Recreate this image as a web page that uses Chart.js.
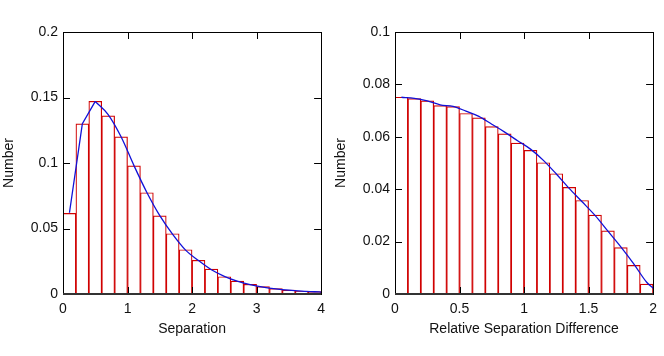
<!DOCTYPE html>
<html>
<head>
<meta charset="utf-8">
<script src="https://cdn.jsdelivr.net/npm/chart.js@4.4.1/dist/chart.umd.min.js"></script>
<style>
  html, body { margin: 0; padding: 0; background: #fff; }
  #wrap { position: relative; width: 664px; height: 356px; }
  canvas { position: absolute; top: 0; }
</style>
</head>
<body>
<div id="wrap">
  <canvas id="left" width="332" height="356" style="left:0"></canvas>
  <canvas id="right" width="332" height="356" style="left:332px"></canvas>
</div>
<script>
// left panel: separation histogram
const sepBins = [0.1, 0.3, 0.5, 0.7, 0.9, 1.1, 1.3, 1.5, 1.7, 1.9, 2.1, 2.3, 2.5, 2.7, 2.9, 3.1, 3.3, 3.5, 3.7, 3.9];
const sepCounts = [0.0615, 0.1299, 0.1471, 0.136, 0.120, 0.0978, 0.0773, 0.0597, 0.046, 0.0338,
  0.0257, 0.019, 0.0132, 0.0099, 0.0074, 0.0056, 0.0041, 0.003, 0.0023, 0.0018];
const sepCurveX = [0.1, 0.3, 0.5, 0.7, 0.9, 1.1, 1.3, 1.5, 1.7, 1.9, 2.1, 2.3, 2.5, 2.7, 2.9, 3.1, 3.3, 3.5, 3.7, 3.9, 4.0];
const sepCurveY = [0.062, 0.130, 0.147, 0.137, 0.120, 0.098, 0.0775, 0.0598, 0.0455, 0.0335,
  0.0255, 0.0185, 0.0135, 0.0098, 0.0072, 0.0053, 0.0039, 0.0029, 0.0022, 0.0017, 0.0015];
const sepXTicks = [0, 1, 2, 3, 4];
const sepYTicks = [0, 0.05, 0.1, 0.15, 0.2];

// right panel: relative separation difference
const relBins = [0.05, 0.15, 0.25, 0.35, 0.45, 0.55, 0.65, 0.75, 0.85, 0.95,
  1.05, 1.15, 1.25, 1.35, 1.45, 1.55, 1.65, 1.75, 1.85, 1.95];
const relCounts = [0.0751, 0.0746, 0.0737, 0.0719, 0.0715, 0.0689, 0.0672, 0.0639, 0.0611, 0.0576,
  0.0548, 0.0501, 0.0459, 0.0407, 0.0357, 0.0301, 0.0241, 0.0177, 0.0109, 0.0038];
const relCurveX = [0.05, 0.15, 0.25, 0.35, 0.45, 0.55, 0.65, 0.75, 0.85, 0.95,
  1.05, 1.15, 1.25, 1.35, 1.45, 1.55, 1.65, 1.75, 1.85, 1.95, 2.0];
const relCurveY = [0.0751, 0.0747, 0.0737, 0.0722, 0.0716, 0.0698, 0.0678, 0.0648, 0.0618, 0.0585,
  0.0553, 0.051, 0.0458, 0.0403, 0.0352, 0.03, 0.024, 0.018, 0.0115, 0.0045, 0.0022];
const relXTicks = [0, 0.5, 1, 1.5, 2];
const relYTicks = [0, 0.02, 0.04, 0.06, 0.08, 0.1];

const FONT = { family: "'Liberation Sans', Arial, sans-serif", size: 14 };
const TEXT = '#111';
const RED = '#d00000';
const BLUE = '#1010d8';
const TICK_LEN = 7;

// gnuplot style box with inward ticks on all four sides
const frameTicks = {
  id: 'frameTicks',
  afterDatasetsDraw(chart) {
    const { ctx, chartArea: a, scales: { x, y } } = chart;
    ctx.save();
    ctx.strokeStyle = '#000';
    ctx.lineWidth = 1;
    ctx.beginPath();
    x.ticks.forEach(t => {
      const px = Math.round(x.getPixelForValue(t.value)) + 0.5;
      ctx.moveTo(px, a.bottom); ctx.lineTo(px, a.bottom - TICK_LEN);
      ctx.moveTo(px, a.top); ctx.lineTo(px, a.top + TICK_LEN);
    });
    y.ticks.forEach(t => {
      const py = Math.round(y.getPixelForValue(t.value)) + 0.5;
      ctx.moveTo(a.left, py); ctx.lineTo(a.left + TICK_LEN, py);
      ctx.moveTo(a.right, py); ctx.lineTo(a.right - TICK_LEN, py);
    });
    ctx.stroke();
    ctx.strokeRect(Math.round(a.left) + 0.5, Math.round(a.top) + 0.5,
      Math.round(a.right - a.left), Math.round(a.bottom - a.top));
    // baseline looks heavier in the original
    ctx.strokeStyle = '#333';
    ctx.lineWidth = 2;
    ctx.beginPath();
    ctx.moveTo(a.left, Math.round(a.bottom));
    ctx.lineTo(a.right, Math.round(a.bottom));
    ctx.stroke();
    ctx.restore();
  }
};

function makePanel(id, bins, counts, curves, xTicks, yTicks, xTitle) {
  const datasets = [{
    type: 'bar',
    data: bins.map((b, i) => ({ x: b, y: counts[i] })),
    backgroundColor: '#fff',
    borderColor: RED,
    borderWidth: 1.2,
    barPercentage: 1,
    categoryPercentage: 1,
    order: 2
  }];
  curves.forEach(c => datasets.push({
    type: 'line',
    data: c.x.map((v, i) => ({ x: v, y: c.y[i] })),
    borderColor: BLUE,
    borderWidth: 1.3,
    pointRadius: 0,
    fill: false,
    cubicInterpolationMode: c.smooth ? 'monotone' : 'default',
    tension: 0,
    order: 1
  }));
  new Chart(document.getElementById(id), {
    type: 'bar',
    data: { datasets },
    plugins: [frameTicks],
    options: {
      responsive: false,
      animation: false,
      layout: { padding: { left: 0, top: 32, right: 7, bottom: 0 } },
      plugins: { legend: { display: false }, tooltip: { enabled: false } },
      scales: {
        x: {
          type: 'linear',
          offset: false,
          min: xTicks[0],
          max: xTicks[xTicks.length - 1],
          afterBuildTicks: s => { s.ticks = xTicks.map(v => ({ value: v })); },
          afterFit: s => { s.height = 62; },
          grid: { display: false, drawTicks: false },
          border: { display: false },
          ticks: { color: TEXT, font: FONT, padding: 7, maxRotation: 0, callback: v => String(v) },
          title: { display: true, text: xTitle, color: TEXT, font: FONT, padding: { top: 0, bottom: 18 } }
        },
        y: {
          type: 'linear',
          min: yTicks[0],
          max: yTicks[yTicks.length - 1],
          afterBuildTicks: s => { s.ticks = yTicks.map(v => ({ value: v })); },
          afterFit: s => { s.width = 63; },
          grid: { display: false, drawTicks: false },
          border: { display: false },
          ticks: { color: TEXT, font: FONT, padding: 5, callback: v => String(v) },
          title: { display: true, text: 'Number', color: TEXT, font: FONT, padding: { top: 1, bottom: 0 } }
        }
      }
    }
  });
}

makePanel('left', sepBins, sepCounts, [
  { x: sepCurveX.slice(0, 3), y: sepCurveY.slice(0, 3), smooth: false },
  { x: sepCurveX.slice(2), y: sepCurveY.slice(2), smooth: true }
], sepXTicks, sepYTicks, 'Separation');

makePanel('right', relBins, relCounts, [
  { x: relCurveX, y: relCurveY, smooth: true }
], relXTicks, relYTicks, 'Relative Separation Difference');
</script>
</body>
</html>
